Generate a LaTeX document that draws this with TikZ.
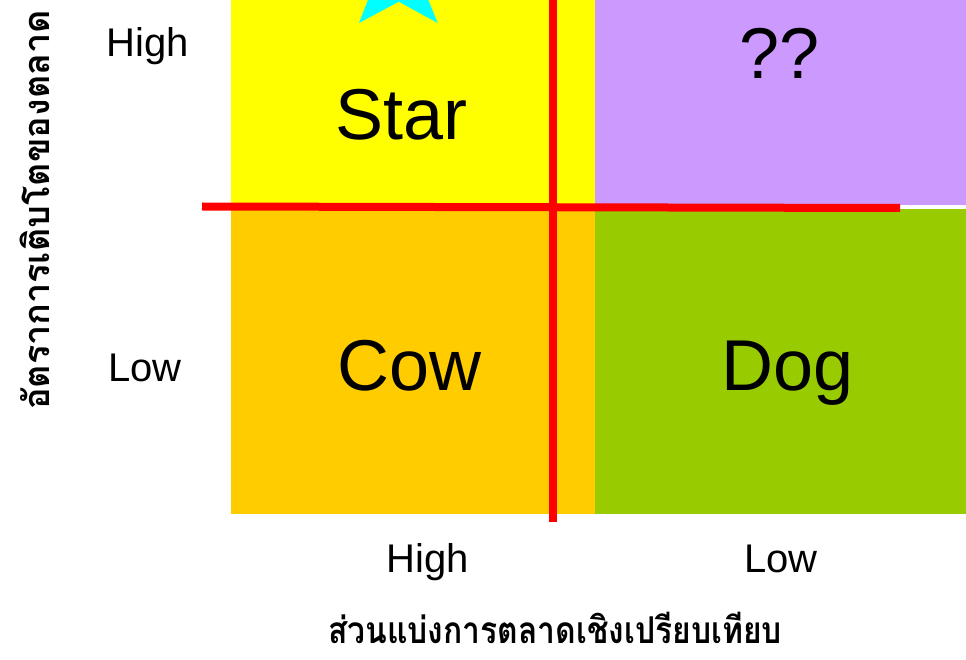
\documentclass[tikz,border=0pt]{standalone}
\usepackage{fontspec}
\setmainfont{Liberation Sans}
\newfontfamily\thaifont[Script=Thai]{Loma}
\newfontfamily\thainarrow[Script=Thai,FakeStretch=0.86]{Loma}
\definecolor{cyellow}{HTML}{FFFF00}
\definecolor{corange}{HTML}{FFCC00}
\definecolor{cpurple}{HTML}{CC99FF}
\definecolor{cgreen}{HTML}{99CC00}
\definecolor{cred}{HTML}{FF0000}
\definecolor{ccyan}{HTML}{00FFFF}
\begin{document}
\begin{tikzpicture}[x=1pt,y=-1pt,
  bigtxt/.style={inner sep=0pt,anchor=base,font=\fontsize{72}{80}\selectfont},
  axtxt/.style={inner sep=0pt,anchor=base,font=\fontsize{40}{48}\selectfont},
  thtxt/.style={inner sep=0pt,anchor=base,font=\thainarrow\bfseries\fontsize{37}{44}\selectfont},
  thytxt/.style={inner sep=0pt,anchor=base,font=\thaifont\bfseries\fontsize{36}{44}\selectfont},
  redline/.style={draw=cred,line width=8pt}]
\useasboundingbox (0,0) rectangle (966,660);
\fill[white] (0,0) rectangle (966,660);
% quadrants
\fill[cyellow] (231,0) rectangle (595,206);
\fill[corange] (231,206) rectangle (595,514);
\fill[cpurple] (595,0) rectangle (966,205);
\fill[cgreen] (595,209) rectangle (966,514);
% star (partly outside the picture)
\begin{scope}
\clip (0,0) rectangle (966,660);
\fill[ccyan] (359,23) -- (398.7,1.7) -- (437.7,23) -- (428.3,0) -- (368,0) -- cycle;
\end{scope}
% axes lines
\coordinate (hl) at (202,206.5);
\coordinate (hr) at (900,208);
\coordinate (vt) at (553,0);
\coordinate (vb) at (553,521.5);
\draw[redline] (hl) -- (hr);
\draw[redline] (vt) -- (vb);
% quadrant labels
\node[bigtxt] (star) at (401.7,140) {Star};
\node[bigtxt] (qq) at (780,79) {??};
\node[bigtxt] (cow) at (409.5,390) {Cow};
\node[bigtxt] (dog) at (788,390) {Dog};
% axis labels
\node[axtxt] (yhigh) at (148,57) {High};
\node[axtxt] (ylow) at (145,381.7) {Low};
\node[axtxt] (xhigh) at (427.5,572) {High};
\node[axtxt] (xlow) at (781,572) {Low};
\node[thtxt] (xtitle) at (555,643) {ส่วนแบ่งการตลาดเชิงเปรียบเทียบ};
\node[thytxt,rotate=90] (ytitle) at (49,210) {อัตราการเติบโตของตลาด};
\end{tikzpicture}
\end{document}
